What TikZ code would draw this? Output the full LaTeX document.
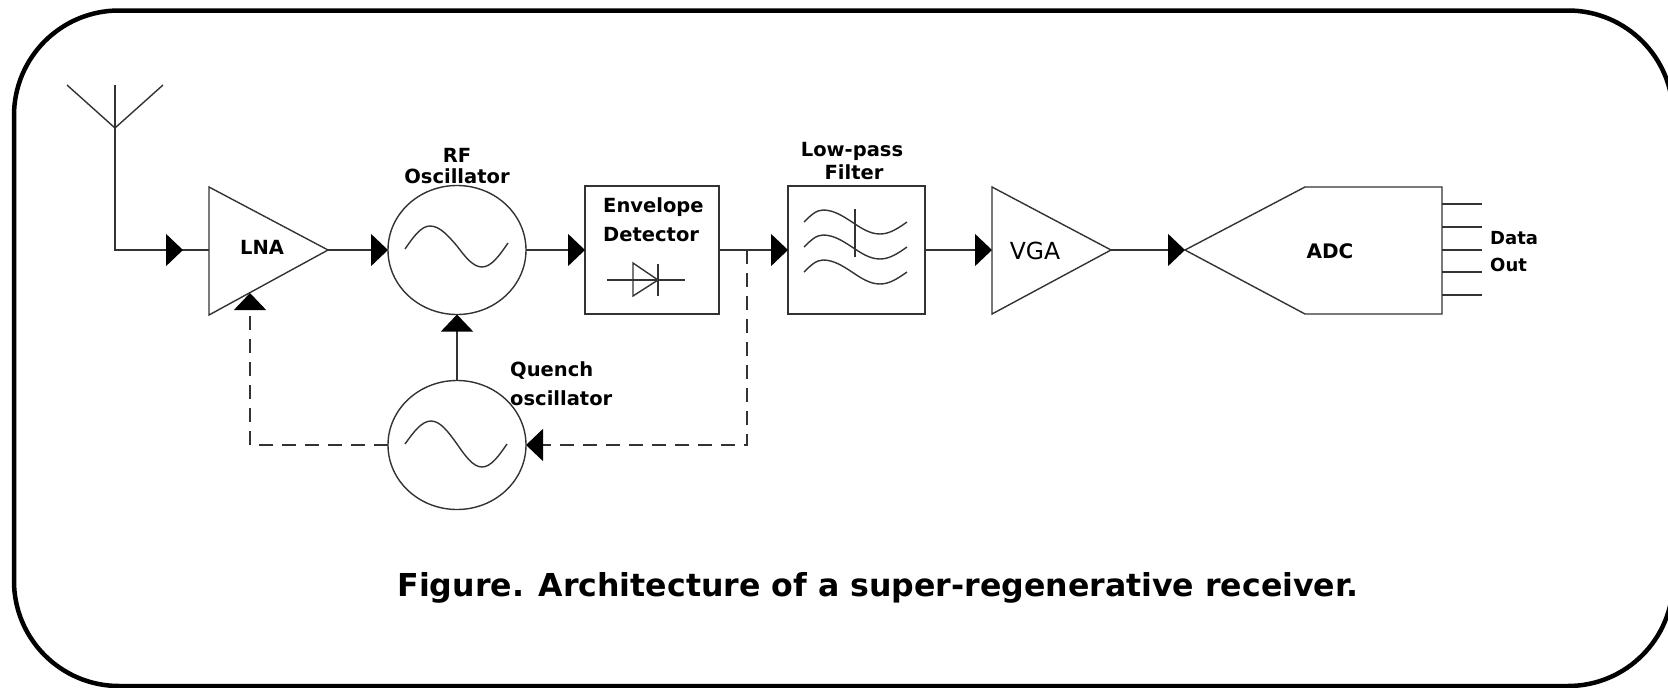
\documentclass[tikz,border=0pt]{standalone}
\usepackage{fontspec}
\setmainfont{DejaVu Sans}
\usetikzlibrary{arrows.meta,shapes.geometric,decorations.markings}
\begin{document}
\begin{tikzpicture}[x=1pt,y=-1pt,
  >={Triangle[length=17pt,width=32pt,color=black]},
  ln/.style={line width=1.4pt, draw=black!80},
  dsh/.style={ln, dash pattern=on 14pt off 9pt},
  lbl/.style={font=\bfseries\fontsize{19.5}{22}\selectfont, inner sep=0pt, anchor=base},
  lblw/.style={lbl, anchor=base west},
  osc/.style={ellipse, ln, minimum width=138pt, minimum height=129pt, inner sep=0pt, outer sep=0pt},
  blk/.style={rectangle, ln, inner sep=0pt, outer sep=0pt, minimum height=128pt},
  midarrow/.style={postaction={decorate, decoration={markings, mark=at position -26pt with {\arrow{>}}}}}
]
\useasboundingbox (0,0) rectangle (1668,688);
% frame
\begin{scope}
\clip (0,0) rectangle (1668,688);
\draw[line width=4.5pt, rounded corners=105pt] (14,10.5) rectangle (1673,686);
\end{scope}

% antenna
\coordinate (antj) at (115,128);
\coordinate (antt) at (115,85);
\coordinate (antl) at (67,85);
\coordinate (antr) at (163,85);
\draw[ln] (antl) -- (antj) -- (antr);
\draw[ln] (antt) -- (antj);

% LNA
\coordinate (lnaw) at (209,250);
\coordinate (lnae) at (328,250);
\coordinate (lnab) at (250,293);
\draw[ln] (209,187) -- (lnae) -- (209,315) -- cycle;
\node[lbl] (lna) at (262,254) {LNA};

% RF oscillator
\node[osc] (rf) at (457,250) {};
\draw[ln] (405,249) sin (430,226) cos (457,246) sin (482,267) cos (508,243);
\node[lbl] (rf1) at (457,162.5) {RF};
\node[lbl] (rf2) at (457,183) {Oscillator};

% Envelope detector
\node[blk, minimum width=134pt] (env) at (652,250) {};
\node[lblw] (env1) at (603,212.7) {Envelope};
\node[lblw] (env2) at (603,241.7) {Detector};
\draw[ln] (607,280) -- (685,280);
\draw[ln] (633,263) -- (633,296) -- (658,280) -- cycle;
\draw[ln] (658,264) -- (658,296);

% Low-pass filter
\node[blk, minimum width=137pt] (lpf) at (856.5,250) {};
\node[lbl] (lpf1) at (852,156) {Low-pass};
\node[lbl] (lpf2) at (854,179.3) {Filter};
\foreach \k in {0,25,50}{
  \draw[ln] (804,222+\k) sin (823,210+\k) cos (852,222+\k) sin (880,234+\k) cos (907,222+\k);
}
\draw[ln] (855,209) -- (855,257);

% VGA
\coordinate (vgaw) at (992,250);
\coordinate (vgae) at (1111,250);
\draw[ln] (992,187) -- (vgae) -- (992,314) -- cycle;
\node[font=\fontsize{23.5}{26}\selectfont, inner sep=0pt, anchor=base] (vga) at (1035,259.5) {VGA};

% ADC
\coordinate (adcw) at (1185,250);
\draw[ln] (adcw) -- (1305,187) -- (1442,187) -- (1442,314) -- (1305,314) -- cycle;
\node[lbl, font=\bfseries\fontsize{20}{22}\selectfont] (adc) at (1330,258) {ADC};
\foreach \y [count=\i] in {204,227,250,272,295}{
  \coordinate (adco\i) at (1442,\y);
  \coordinate (dout\i) at (1482,\y);
  \draw[ln] (adco\i) -- (dout\i);
}
\node[lblw, font=\bfseries\fontsize{18}{20}\selectfont] (data1) at (1490,244) {Data};
\node[lblw, font=\bfseries\fontsize{18}{20}\selectfont] (data2) at (1490,271.7) {Out};

% Quench oscillator
\node[osc] (q) at (457,445) {};
\draw[ln] (405,444) sin (431,421) cos (457,444) sin (482,467) cos (507,444);
\node[lblw] (q1) at (510,376.4) {Quench};
\node[lblw] (q2) at (510,405.7) {oscillator};

% connectors
\draw[ln, midarrow] (antj) |- (lnaw);
\draw[ln, ->] (lnae) -- (rf.west);
\draw[ln, ->] (rf.east) -- (env.west);
\draw[ln, ->] (env.east) -- (lpf.west);
\draw[ln, ->] (lpf.east) -- (vgaw);
\draw[ln, ->] (vgae) -- (adcw);
\draw[ln, ->] (q.north) -- (rf.south);
\coordinate (tap) at (747,250);
\draw[dsh, ->] (tap) |- (q.east);
\draw[dsh, ->] (q.west) -| (lnab);

% caption
\node[font=\bfseries\fontsize{31.6}{36}\selectfont, inner sep=0pt, anchor=base] (cap) at (878,596) {Figure. Architecture of a super-regenerative receiver.};
\end{tikzpicture}
\end{document}
